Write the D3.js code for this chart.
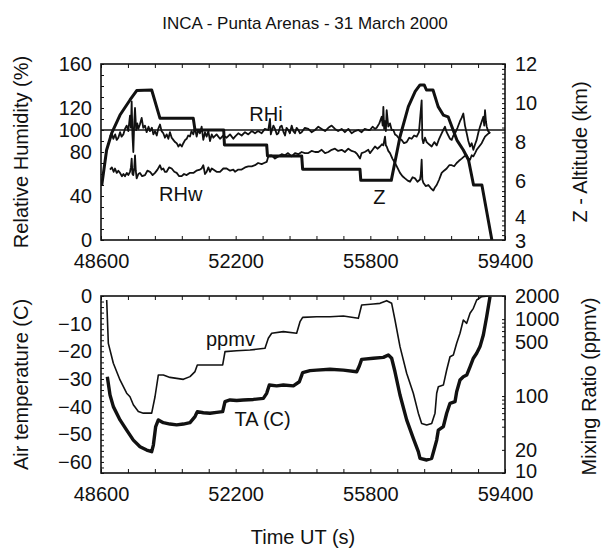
<!DOCTYPE html>
<html><head><meta charset="utf-8">
<script src="https://cdn.jsdelivr.net/npm/d3@7"></script>
<style>
body{margin:0;background:#fff;}
svg text{font-family:"Liberation Sans",Arial,Helvetica,sans-serif;fill:#111;}
</style></head>
<body><svg id="c" width="610" height="548"></svg>
<script>
const title = "INCA - Punta Arenas - 31 March 2000";
const timeTicks = [48600, 52200, 55800, 59400];
const rhTicks = [0, 40, 80, 100, 120, 160];
const zTicks = [3, 4, 6, 8, 10, 12];
const taTicks = [0, -10, -20, -30, -40, -50, -60];
const ppmvTicks = [10, 20, 100, 500, 1000, 2000];

// [time (s), altitude (km)]
const zSeries = [[48620,5.8],[48750,7.6],[48886,8.46],[49108,9.39],[49375,10.16],[49554,10.64],[49955,10.67],[50177,9.22],[51067,9.22],[51113,8.62],[51880,8.62],[51900,7.86],[53029,7.86],[53050,7.30],[53965,7.30],[53990,6.62],[55523,6.62],[55545,6.05],[56360,6.05],[56593,8.28],[56816,9.82],[57000,10.6],[57128,10.93],[57240,10.93],[57300,10.67],[57475,10.67],[57613,9.82],[57750,9.39],[57880,9.30],[58114,8.11],[58285,7.60],[58425,7.09],[58559,5.81],[58782,5.81],[59049,3.0]];

// [time (s), RH over ice (%)]
const rhiSeries = [[48840,94],[48890,97],[48929,92],[48980,96],[49020,91],[49063,93],[49110,98],[49150,94],[49197,96],[49240,101],[49286,104],[49330,99],[49375,113],[49400,102],[49420,126],[49440,96],[49464,80],[49490,108],[49509,120],[49540,100],[49570,106],[49598,101],[49640,105],[49687,111],[49730,102],[49776,104],[49820,98],[49870,103],[49910,99],[49960,102],[50000,96],[50043,99],[50090,95],[50130,101],[50177,105],[50220,99],[50266,97],[50310,93],[50355,96],[50400,92],[50444,98],[50490,93],[50533,91],[50580,89],[50623,88],[50670,85],[50712,87],[50760,85],[50801,88],[50850,91],[50890,92],[50930,95],[50979,94],[51020,99],[51068,96],[51110,102],[51157,94],[51200,100],[51246,97],[51290,103],[51335,91],[51380,98],[51425,94],[51470,99],[51514,90],[51560,96],[51603,93],[51690,96],[51781,92],[51870,95],[51959,93],[52050,96],[52137,92],[52182,94],[52270,97],[52360,95],[52450,98],[52538,96],[52630,99],[52717,97],[52800,99],[52895,97],[52980,101],[53073,100],[53118,110],[53140,96],[53162,99],[53210,104],[53251,101],[53300,96],[53340,97],[53390,103],[53429,104],[53480,98],[53519,95],[53560,102],[53608,100],[53650,97],[53697,104],[53740,99],[53786,97],[53830,102],[53875,100],[53920,97],[53964,98],[54050,102],[54142,101],[54230,98],[54321,100],[54410,103],[54499,101],[54590,99],[54677,102],[54766,104],[54855,101],[54940,99],[55033,101],[55120,98],[55212,101],[55300,97],[55390,99],[55480,100],[55568,98],[55650,101],[55746,100],[55791,100],[55860,103],[55925,101],[55969,102],[56040,106],[56103,112],[56130,104],[56148,121],[56170,101],[56192,108],[56215,99],[56237,118],[56280,103],[56326,106],[56370,100],[56415,100],[56460,96],[56504,95],[56570,92],[56638,91],[56700,88],[56771,89],[56840,93],[56905,92],[56970,95],[57039,94],[57100,98],[57172,127],[57190,92],[57217,88],[57260,93],[57306,89],[57370,87],[57440,85],[57510,89],[57574,86],[57640,92],[57707,97],[57750,100],[57796,103],[57840,98],[57885,95],[57930,92],[57975,91],[58020,95],[58064,97],[58130,102],[58197,108],[58240,111],[58286,115],[58330,104],[58376,97],[58420,90],[58465,85],[58510,88],[58554,82],[58600,87],[58643,91],[58690,98],[58732,103],[58780,108],[58821,112],[58845,104],[58866,118],[58890,108],[58911,103],[58950,99],[59000,97]];

// [time (s), RH over water (%)]
const rhwSeries = [[48840,64],[48890,66],[48940,62],[48974,65],[49020,61],[49063,63],[49108,61],[49160,58],[49200,60],[49241,58],[49290,61],[49330,59],[49375,62],[49400,66],[49420,74],[49440,60],[49464,59],[49490,66],[49509,77],[49530,63],[49553,56],[49600,60],[49642,61],[49700,58],[49776,59],[49840,63],[49910,62],[49980,59],[50043,61],[50110,64],[50177,68],[50220,64],[50266,65],[50310,62],[50355,62],[50420,66],[50489,65],[50560,62],[50623,61],[50690,58],[50756,58],[50820,60],[50890,59],[50970,61],[51068,61],[51150,63],[51246,64],[51290,65],[51335,68],[51380,60],[51425,62],[51470,66],[51514,62],[51560,65],[51603,64],[51690,62],[51781,62],[51870,65],[51959,65],[52050,63],[52137,64],[52182,62],[52270,64],[52360,64],[52450,66],[52538,67],[52630,67],[52717,68],[52800,70],[52895,69],[52960,70],[53029,71],[53073,76],[53120,77],[53162,77],[53250,74],[53340,76],[53430,78],[53519,77],[53600,79],[53697,76],[53786,79],[53875,78],[53964,80],[54050,79],[54142,79],[54230,81],[54321,80],[54410,80],[54499,82],[54590,79],[54677,80],[54766,82],[54855,83],[54940,81],[55033,82],[55120,80],[55212,83],[55300,81],[55390,80],[55450,78],[55524,74],[55568,79],[55650,80],[55746,82],[55791,79],[55860,82],[55925,85],[55990,83],[56058,85],[56110,87],[56148,86],[56170,90],[56192,94],[56215,86],[56237,85],[56280,81],[56326,79],[56390,74],[56459,70],[56520,66],[56593,61],[56660,58],[56727,56],[56800,54],[56860,53],[56930,57],[56994,56],[57060,53],[57128,55],[57150,60],[57172,73],[57190,55],[57217,52],[57280,49],[57351,50],[57420,47],[57485,45],[57530,48],[57574,50],[57640,55],[57707,61],[57770,63],[57841,65],[57910,68],[57975,68],[58040,67],[58108,70],[58170,72],[58242,74],[58310,76],[58376,77],[58420,74],[58465,73],[58510,77],[58554,76],[58600,79],[58643,82],[58710,85],[58777,88],[58820,91],[58866,94],[58930,96],[59000,98]];

// [time (s), air temperature (C)]
const taSeries = [[48769,-29.2],[48841,-35.8],[48930,-40.0],[49108,-44.8],[49286,-48.5],[49464,-52.1],[49643,-54.5],[49821,-55.7],[49955,-56.3],[50000,-53.9],[50062,-47.2],[50133,-44.8],[50266,-45.8],[50444,-46.3],[50623,-46.6],[50801,-46.3],[50979,-45.8],[51113,-43.6],[51175,-41.8],[51336,-42.2],[51514,-42.4],[51692,-42.1],[51853,-41.8],[51915,-38.2],[52049,-37.6],[52228,-37.8],[52405,-37.6],[52673,-37.4],[52940,-37.0],[53029,-35.2],[53100,-32.2],[53296,-32.5],[53474,-32.2],[53742,-32.5],[53902,-31.0],[53991,-27.7],[54187,-27.0],[54366,-26.8],[54722,-26.5],[55079,-26.8],[55435,-27.4],[55506,-25.3],[55568,-22.9],[55880,-22.5],[56147,-22.2],[56281,-21.3],[56370,-22.5],[56459,-27.4],[56593,-35.8],[56771,-44.8],[56949,-51.5],[57083,-56.3],[57128,-58.7],[57306,-59.3],[57440,-58.7],[57502,-55.7],[57574,-52.1],[57618,-48.5],[57752,-47.2],[57841,-42.4],[57930,-38.8],[58064,-38.2],[58108,-34.6],[58197,-30.4],[58286,-29.2],[58376,-28.6],[58465,-25.6],[58554,-22.5],[58643,-20.7],[58732,-18.3],[58821,-14.1],[58910,-7.5],[59000,-0.2]];

// [time (s), mixing ratio (ppmv)]
const ppmvSeries = [[48752,1775],[48796,485],[48930,267],[49108,162],[49286,109],[49375,98],[49464,77],[49598,63],[49732,60],[49955,60],[50044,98],[50133,188],[50266,188],[50444,175],[50623,170],[50801,165],[50979,179],[51113,208],[51175,254],[51514,254],[51853,254],[51915,378],[52228,389],[52583,397],[52984,418],[53073,564],[53163,655],[53474,688],[53830,655],[53920,927],[53991,1056],[54366,1077],[54722,1077],[55079,1099],[55479,1025],[55568,1527],[55880,1574],[56059,1606],[56237,1739],[56370,1606],[56459,975],[56593,439],[56771,198],[56949,109],[57083,60],[57172,44],[57306,42],[57440,44],[57529,60],[57574,109],[57618,132],[57752,139],[57841,218],[57930,325],[58019,342],[58108,485],[58197,655],[58286,975],[58376,883],[58465,1191],[58554,1383],[58643,1775],[58777,1960],[58955,2000]];

const svg = d3.select("#c");
const L = 101, R = 505;
const top1 = 64, bot1 = 240, top2 = 296, bot2 = 473;
const FS = 20;

const x = d3.scaleLinear().domain([48600, 59400]).range([L, R]);
const yRH = d3.scaleLinear().domain([0, 160]).range([bot1, top1]);
const yZ = d3.scaleLinear().domain([3, 12]).range([bot1, top1]);
const yT = d3.scaleLinear().domain([-64, 0]).range([bot2, top2]);
const yP = d3.scaleLog().domain([10, 2000]).range([bot2, top2]);

svg.append("text").attr("x", 305).attr("y", 29).attr("text-anchor", "middle")
  .style("font-size", "17px").text(title);

const defs = svg.append("defs");
defs.append("clipPath").attr("id", "cp1").append("rect").attr("x", L).attr("y", top1).attr("width", R - L).attr("height", bot1 - top1);
defs.append("clipPath").attr("id", "cp2").append("rect").attr("x", L).attr("y", top2).attr("width", R - L).attr("height", bot2 - top2);

function range(a, b, s) { const o = []; for (let v = a; v <= b + 1e-9; v += s) o.push(+v.toFixed(4)); return o; }
const minorX = range(48600, 59400, 720);

function panelAxes(yTop, yBot, yl, yr, lTicks, lMinor, rTicks, rMinor, lFmt, rFmt, rNudge) {
  svg.append("g").attr("transform", `translate(0,${yBot})`)
    .call(d3.axisBottom(x).tickValues(minorX).tickSize(-4).tickFormat(""));
  svg.append("g").attr("transform", `translate(0,${yTop})`)
    .call(d3.axisTop(x).tickValues(minorX).tickSize(-4).tickFormat(""));
  svg.append("g").attr("transform", `translate(${L},0)`)
    .call(d3.axisLeft(yl).tickValues(lMinor).tickSize(-3).tickFormat(""));
  svg.append("g").attr("transform", `translate(${R},0)`)
    .call(d3.axisRight(yr).tickValues(rMinor).tickSize(-3).tickFormat(""));
  const gx = svg.append("g").attr("transform", `translate(0,${yBot})`)
    .call(d3.axisBottom(x).tickValues(timeTicks).tickSize(0).tickPadding(14).tickFormat(d3.format("d")));
  const gl = svg.append("g").attr("transform", `translate(${L},0)`)
    .call(d3.axisLeft(yl).tickValues(lTicks).tickSize(0).tickPadding(9).tickFormat(lFmt));
  const gr = svg.append("g").attr("transform", `translate(${R},0)`)
    .call(d3.axisRight(yr).tickValues(rTicks).tickSize(0).tickPadding(10).tickFormat(rFmt));
  [gx, gl, gr].forEach(g => {
    g.select(".domain").remove();
    g.selectAll("text").style("font-size", FS + "px").attr("font-family", null).attr("fill", "#111");
  });
  if (rNudge) gr.selectAll(".tick text").attr("y", d => rNudge[d] || 0);
  svg.selectAll("g path.domain").attr("stroke", "none");
  svg.selectAll("g .tick line").attr("stroke", "#111").attr("stroke-width", 1);
  svg.append("rect").attr("x", L).attr("y", yTop).attr("width", R - L).attr("height", yBot - yTop)
    .attr("fill", "none").attr("stroke", "#111").attr("stroke-width", 1.6);
}

const rhMinor = range(0, 160, 10);
const zMinor = range(3, 12, 0.25);
const tMinor = range(-64, 0, 2);
const pMinor = [];
[10, 100, 1000].forEach(d => { for (let k = 1; k <= 9; k++) { const v = d * k; if (v >= 10 && v <= 2000) pMinor.push(v); } });
pMinor.push(2000);

panelAxes(top1, bot1, yRH, yZ, rhTicks, rhMinor, zTicks, zMinor, d3.format("d"), d3.format("d"), {4: -3, 3: 1});
panelAxes(top2, bot2, yT, yP, taTicks, tMinor, ppmvTicks, pMinor, d3.format("d"), d3.format("d"), {10: -2});

const p1 = svg.append("g").attr("clip-path", "url(#cp1)");
p1.append("line").attr("x1", L).attr("x2", R).attr("y1", yRH(100)).attr("y2", yRH(100))
  .attr("stroke", "#111").attr("stroke-width", 1.6);
const lineRH = d3.line().x(d => x(d[0])).y(d => yRH(d[1]));
const lineZ = d3.line().x(d => x(d[0])).y(d => yZ(d[1]));
p1.append("path").datum(rhwSeries).attr("d", lineRH).attr("fill", "none").attr("stroke", "#111").attr("stroke-width", 1.8).attr("stroke-linejoin", "round");
p1.append("path").datum(rhiSeries).attr("d", lineRH).attr("fill", "none").attr("stroke", "#111").attr("stroke-width", 1.8).attr("stroke-linejoin", "round");
p1.append("path").datum(zSeries).attr("d", lineZ).attr("fill", "none").attr("stroke", "#111").attr("stroke-width", 3).attr("stroke-linejoin", "round");

const p2 = svg.append("g").attr("clip-path", "url(#cp2)");
p2.append("path").datum(ppmvSeries).attr("d", d3.line().x(d => x(d[0])).y(d => yP(d[1])))
  .attr("fill", "none").attr("stroke", "#111").attr("stroke-width", 1.6).attr("stroke-linejoin", "round");
p2.append("path").datum(taSeries).attr("d", d3.line().x(d => x(d[0])).y(d => yT(d[1])))
  .attr("fill", "none").attr("stroke", "#111").attr("stroke-width", 3.4).attr("stroke-linejoin", "round");

function lab(t, xx, yy) {
  svg.append("text").attr("x", xx).attr("y", yy).attr("text-anchor", "middle")
    .attr("dominant-baseline", "central").style("font-size", FS + "px").text(t);
}
lab("RHi", x(53010), yRH(115));
lab("RHw", x(50730), yRH(42));
lab("Z", x(56040), yZ(5.2));
lab("ppmv", x(52060), yP(560));
lab("TA (C)", x(52920), yT(-44.5));

function vlab(t, xx, yy) {
  svg.append("text").attr("transform", `translate(${xx},${yy}) rotate(-90)`)
    .attr("text-anchor", "middle").attr("dominant-baseline", "central")
    .style("font-size", FS + "px").text(t);
}
vlab("Relative Humidity (%)", 21, (top1 + bot1) / 2);
vlab("Air temperature  (C)", 21, (top2 + bot2) / 2);
vlab("Z - Altitude (km)", 580, (top1 + bot1) / 2);
vlab("Mixing Ratio (ppmv)", 589, (top2 + bot2) / 2 + 2);
svg.append("text").attr("x", 303).attr("y", 544).attr("text-anchor", "middle")
  .style("font-size", FS + "px").text("Time UT (s)");
</script></body></html>
